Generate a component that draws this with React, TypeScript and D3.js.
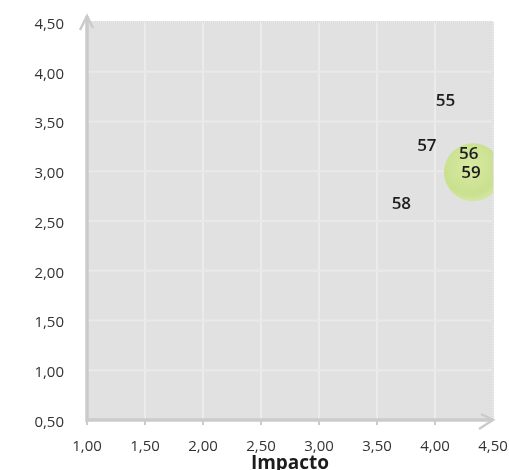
import React from "react";
import * as d3 from "d3";

const pointLabels = ["55", "57", "56", "59", "58"];
const impactoValues = [4.09, 3.93, 4.29, 4.31, 3.71];
const yValues = [3.72, 3.26, 3.18, 2.99, 2.68];
const bubbleSizes = [0, 0, 0, 1, 0];
const xTicks = [1.0, 1.5, 2.0, 2.5, 3.0, 3.5, 4.0, 4.5];
const yTicks = [0.5, 1.0, 1.5, 2.0, 2.5, 3.0, 3.5, 4.0, 4.5];
const xTitle = "Impacto";

const W = 509;
const H = 470;
const left = 87;
const right = 493;
const top = 22;
const bottom = 420;

const fmt = (v: number) => v.toFixed(2).replace(".", ",");

export default function App() {
  const x = d3.scaleLinear().domain([1, 4.5]).range([left, right]);
  const y = d3.scaleLinear().domain([0.5, 4.5]).range([bottom, top]);
  const r = d3.scaleSqrt().domain([0, 1]).range([0, 29]);
  const font = "'Open Sans', 'DejaVu Sans', sans-serif";

  return (
    <svg
      width={W}
      height={H}
      style={{ position: "absolute", left: 0, top: 0, display: "block", background: "#ffffff" }}
    >
      <defs>
        <radialGradient id="bub" cx="45%" cy="40%" r="60%">
          <stop offset="0%" stopColor="#d9eaa2" />
          <stop offset="80%" stopColor="#c9e08f" />
          <stop offset="100%" stopColor="#d4e6a4" />
        </radialGradient>
        <clipPath id="plotClip">
          <rect x={left} y={top} width={right - left} height={bottom - top} />
        </clipPath>
        <filter id="blur1" x="-20%" y="-20%" width="140%" height="140%">
          <feGaussianBlur stdDeviation="0.6" />
        </filter>
        <filter id="blurT" x="-20%" y="-20%" width="140%" height="140%">
          <feGaussianBlur stdDeviation="0.35" />
        </filter>
      </defs>

      {/* plot background */}
      <rect x={left} y={top} width={right - left} height={bottom - top} fill="#e1e1e1" />

      {/* gridlines */}
      <g filter="url(#blur1)">
        {xTicks.slice(1).map((t) => (
          <line key={"gx" + t} x1={x(t)} x2={x(t)} y1={top} y2={bottom} stroke="#ebebeb" strokeWidth={2} />
        ))}
        {yTicks.slice(1).map((t) => (
          <line key={"gy" + t} x1={left} x2={right} y1={y(t)} y2={y(t)} stroke="#e9e9e9" strokeWidth={2} />
        ))}
      </g>

      {/* dotted border on top and right */}
      <line x1={left} x2={right} y1={top} y2={top} stroke="#cfcfcf" strokeDasharray="1,1" />
      <line x1={right} x2={right} y1={top} y2={bottom} stroke="#cfcfcf" strokeDasharray="1,1" />

      {/* bubbles */}
      <g clipPath="url(#plotClip)">
        {impactoValues.map((v, i) =>
          bubbleSizes[i] > 0 ? (
            <circle key={"b" + i} cx={x(v) + 2} cy={y(yValues[i])} r={r(bubbleSizes[i])} fill="url(#bub)" />
          ) : null
        )}
      </g>

      {/* axes with arrows */}
      <g stroke="#cbcbcb" strokeWidth={3.5} fill="none" filter="url(#blur1)">
        <line x1={left} x2={left} y1={bottom + 2} y2={top - 6} />
        <path d={`M${left - 7},${top + 8} L${left},${top - 6} L${left + 6},${top + 6}`} strokeWidth={2.5} />
        <line x1={left} x2={right} y1={bottom} y2={bottom} />
        <path d={`M${right - 12},${bottom - 6} L${right},${bottom} L${right - 14},${bottom + 9}`} strokeWidth={2.5} />
      </g>
      {/* tick marks */}
      <g stroke="#cbcbcb" strokeWidth={2}>
        {xTicks.slice(0, -1).map((t) => (
          <line key={"tx" + t} x1={x(t)} x2={x(t)} y1={bottom} y2={bottom + 5} />
        ))}
      </g>

      <g filter="url(#blurT)">
        {/* point labels */}
        <g fontFamily={font} fontSize={17} fontWeight={600} fill="#1e1e1e" textAnchor="middle">
          {impactoValues.map((v, i) => (
            <text key={"l" + i} x={x(v)} y={y(yValues[i])} dy="0.35em">
              {pointLabels[i]}
            </text>
          ))}
        </g>

        {/* y tick labels */}
        <g fontFamily={font} fontSize={15} fill="#333333" textAnchor="end">
          {yTicks.map((t) => (
            <text key={"yl" + t} x={64} y={y(t) + 1.5} dy="0.35em">
              {fmt(t)}
            </text>
          ))}
        </g>

        {/* x tick labels */}
        <g fontFamily={font} fontSize={15} fill="#333333" textAnchor="middle">
          {xTicks.map((t) => (
            <text key={"xl" + t} x={x(t)} y={451}>
              {fmt(t)}
            </text>
          ))}
        </g>

        <text x={(left + right) / 2} y={469} textAnchor="middle" fontFamily={font} fontSize={19} fontWeight="bold" fill="#1a1a1a">
          {xTitle}
        </text>
      </g>
    </svg>
  );
}
